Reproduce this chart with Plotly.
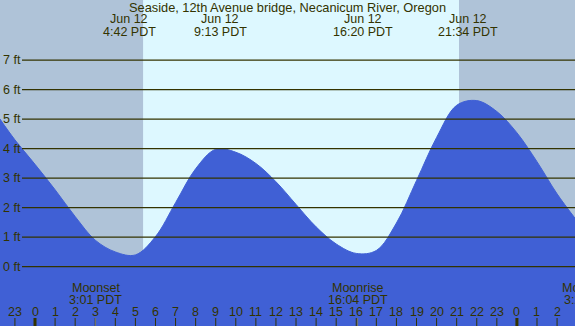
import plotly.graph_objects as go

# ---- data (hours since midnight Jun 12, feet) ----
tide_hours = [-1.75, -1, 0, 1, 2, 3, 4, 5, 6, 7, 8, 9, 10, 11, 12, 13, 14, 15, 16,
              17, 18, 19, 20, 21, 22, 23, 24, 25, 26, 26.92]
tide_feet = [5.01, 4.30, 3.47, 2.61, 1.70, 0.90, 0.50, 0.40, 1.02, 2.17, 3.32, 3.98,
             3.88, 3.50, 2.88, 2.11, 1.35, 0.77, 0.45, 0.55, 1.48, 2.92, 4.38, 5.47,
             5.63, 5.26, 4.54, 3.56, 2.47, 1.62]

extreme_hours = [4 + 42/60, 9 + 13/60, 16 + 20/60, 21 + 34/60]
extreme_dates = ["Jun 12", "Jun 12", "Jun 12", "Jun 12"]
extreme_labels = ["4:42 PDT", "9:13 PDT", "16:20 PDT", "21:34 PDT"]

sunrise_hour = 5 + 23/60
sunset_hour = 21 + 7/60

moon_hours = [3 + 1/60, 16 + 4/60, 27 + 27/60]
moon_events = ["Moonset", "Moonrise", "Moonset"]
moon_labels = ["3:01 PDT", "16:04 PDT", "3:27 PDT"]

hour_ticks = list(range(-1, 27))
hour_labels = [str(h % 24) for h in hour_ticks]

feet_ticks = [0, 1, 2, 3, 4, 5, 6, 7]
feet_labels = [f"{f} ft" for f in feet_ticks]

title = "Seaside, 12th Avenue bridge, Necanicum River, Oregon"

# ---- styling ----
X_RANGE = [-1.743, 26.893]
Y_RANGE = [-2.01, 9.04]
NIGHT = "#afc3d8"
DAY = "#ddf8ff"
WATER = "#4060d5"
INK = "#333300"
FONT = "Liberation Sans, Arial, sans-serif"
W, H = 575, 326

fig = go.Figure()
fig.add_trace(go.Scatter(x=[X_RANGE[0] - 1, X_RANGE[1] + 1], y=[Y_RANGE[0] - 1, Y_RANGE[0] - 1],
                         mode="lines", line=dict(width=0), hoverinfo="skip", showlegend=False))
fig.add_trace(go.Scatter(x=tide_hours, y=tide_feet, mode="lines",
                         line=dict(color=WATER, width=1, shape="spline", smoothing=1.0),
                         fill="tonexty", fillcolor=WATER, hoverinfo="skip", showlegend=False))

shapes = []
shapes.append(dict(type="rect", xref="x", yref="paper", x0=sunrise_hour, x1=sunset_hour,
                   y0=0, y1=1, fillcolor=DAY, line=dict(width=0), layer="below"))
for f in feet_ticks:
    shapes.append(dict(type="line", xref="paper", yref="y", x0=22 / W, x1=1, y0=f, y1=f,
                       line=dict(color=INK, width=1.2), layer="above"))
for h in hour_ticks:
    wide = (h % 24 == 0)
    shapes.append(dict(type="line", xref="x", yref="paper", x0=h, x1=h, y0=0, y1=8 / H,
                       line=dict(color=INK, width=3 if wide else 1), layer="above"))
for h in moon_hours:
    shapes.append(dict(type="line", xref="x", yref="paper", x0=h, x1=h, y0=0, y1=8 / H,
                       line=dict(color="#777766", width=1), layer="above"))

ann = []
tf = dict(family=FONT, size=12.5, color=INK)
ann.append(dict(text=title, xref="paper", yref="paper", x=0.5, xanchor="center", y=1 - 7.5 / H,
                showarrow=False, font=dict(family=FONT, size=12.8, color=INK), yanchor="middle"))
for h, d, t in zip(extreme_hours, extreme_dates, extreme_labels):
    ann.append(dict(text=d, xref="x", yref="paper", x=h, xanchor="center", y=1 - 19.5 / H,
                    showarrow=False, font=tf, yanchor="middle"))
    ann.append(dict(text=t, xref="x", yref="paper", x=h, xanchor="center", y=1 - 32 / H,
                    showarrow=False, font=tf, yanchor="middle"))
for f, lab in zip(feet_ticks, feet_labels):
    ann.append(dict(text=lab, xref="paper", yref="y", x=1 / W, y=f, xanchor="left",
                    yanchor="middle", showarrow=False, font=tf))
for h, lab in zip(hour_ticks, hour_labels):
    ann.append(dict(text=lab, xref="x", yref="paper", x=h, xanchor="center",
                    y=(H - 311.5) / H, showarrow=False, font=tf, yanchor="middle"))
for h, ev, lab in zip(moon_hours, moon_events, moon_labels):
    xp = (h - X_RANGE[0]) / (X_RANGE[1] - X_RANGE[0])
    if xp <= 1:
        ann.append(dict(text=ev, xref="paper", yref="paper", x=xp, xanchor="center",
                        y=(H - 288) / H, showarrow=False, font=tf, yanchor="middle"))
        ann.append(dict(text=lab, xref="paper", yref="paper", x=xp, xanchor="center",
                        y=(H - 299.5) / H, showarrow=False, font=tf, yanchor="middle"))
    else:
        # label centred beyond the right edge: anchor its left side so the edge clips it
        half = 23.5 / W
        ann.append(dict(text=ev, xref="paper", yref="paper", x=xp - half, xanchor="left",
                        xshift=-3, y=(H - 288) / H, showarrow=False, font=tf, yanchor="middle"))
        ann.append(dict(text=lab, xref="paper", yref="paper", x=xp - half + 2 / W,
                        xanchor="left", xshift=-3, y=(H - 299.5) / H, showarrow=False,
                        font=tf, yanchor="middle"))

fig.update_layout(
    width=W, height=H, margin=dict(l=0, r=0, t=0, b=0),
    paper_bgcolor=NIGHT, plot_bgcolor=NIGHT,
    xaxis=dict(range=X_RANGE, visible=False, fixedrange=True),
    yaxis=dict(range=Y_RANGE, visible=False, fixedrange=True),
    shapes=shapes, annotations=ann, showlegend=False,
)
fig.write_html("out.html", config=dict(displayModeBar=False),
               post_script="document.body.style.margin='0';document.body.style.overflow='hidden';")
